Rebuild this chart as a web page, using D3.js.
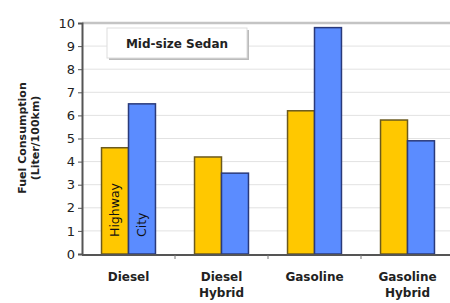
<!DOCTYPE html>
<html>
<head>
<meta charset="utf-8">
<script src="https://cdn.jsdelivr.net/npm/d3@7"></script>
<style>
  body { margin: 0; background: #fff; }
  text { font-family: "DejaVu Sans", sans-serif; }
</style>
</head>
<body>
<svg id="chart" width="450" height="303"></svg>
<script>
// fuel consumption, mid-size sedan
let categories = [["Diesel"], ["Diesel", "Hybrid"], ["Gasoline"], ["Gasoline", "Hybrid"]];
let catKeys = categories.map(d => d.join(" "));
let seriesNames = ["Highway", "City"];
let highway = [4.6, 4.2, 6.2, 5.8];
let city = [6.5, 3.5, 9.8, 4.9];
let yTicks = [0, 1, 2, 3, 4, 5, 6, 7, 8, 9, 10];

let svg = d3.select("#chart");

let x = d3.scaleBand()
          .domain(catKeys)
          .range([82, 454])
          .paddingInner(0.42)
          .paddingOuter(0.21);

let xInner = d3.scaleBand()
               .domain(seriesNames)
               .range([0, x.bandwidth()]);

let y = d3.scaleLinear()
          .domain([0, 10])
          .range([254, 23]);

let colors = { Highway: "#ffc800", City: "#5b8cff" };
let strokes = { Highway: "#6b5a1e", City: "#2a3a7a" };

// gridlines
svg.append("g")
   .selectAll("line")
   .data(yTicks.filter(d => d > 0))
   .enter()
   .append("line")
   .attr("x1", 82)
   .attr("x2", 450)
   .attr("y1", d => y(d))
   .attr("y2", d => y(d))
   .attr("stroke", d => d == 10 ? "#c4c4c4" : "#e2e2e2")
   .attr("stroke-width", d => d == 10 ? 2.5 : 1);

// legend box
let lg = svg.append("g");
lg.append("rect")
  .attr("x", 109).attr("y", 30).attr("width", 140).attr("height", 30)
  .attr("fill", "#bbb");
lg.append("rect")
  .attr("x", 107).attr("y", 28).attr("width", 140).attr("height", 30)
  .attr("fill", "#fff").attr("stroke", "#ddd");
lg.append("text")
  .attr("x", 177).attr("y", 48)
  .attr("text-anchor", "middle")
  .attr("font-size", 12).attr("font-weight", "bold")
  .attr("fill", "#222")
  .text("Mid-size Sedan");

// bars
let rows = catKeys.map((k, i) => ({ key: k, Highway: highway[i], City: city[i] }));

let groups = svg.selectAll("g.grp")
                .data(rows)
                .enter()
                .append("g")
                .attr("class", "grp")
                .attr("transform", d => `translate(${x(d.key)},0)`);

groups.selectAll("rect")
      .data(d => seriesNames.map(s => ({ s: s, v: d[s] })))
      .enter()
      .append("rect")
      .attr("x", d => xInner(d.s))
      .attr("y", d => y(d.v))
      .attr("width", xInner.bandwidth())
      .attr("height", d => y(0) - y(d.v))
      .attr("fill", d => colors[d.s])
      .attr("stroke", d => strokes[d.s])
      .attr("stroke-width", 1.5);

// series labels inside first group
svg.selectAll("text.series")
   .data(seriesNames)
   .enter()
   .append("text")
   .attr("class", "series")
   .attr("transform", d => `translate(${x(catKeys[0]) + xInner(d) + xInner.bandwidth() / 2 + 4},237) rotate(-90)`)
   .attr("font-size", 12.5)
   .attr("fill", "#111")
   .text(d => d);

// y axis
let yAxis = svg.append("g")
               .attr("transform", "translate(82,0)")
               .call(d3.axisLeft(y).tickValues(yTicks).tickSize(4).tickPadding(3));
yAxis.select(".domain").attr("stroke", "#555").attr("stroke-width", 2);
yAxis.selectAll(".tick line").attr("stroke", "#555");
yAxis.selectAll(".tick text")
     .attr("font-size", 13)
     .attr("fill", "#222")
     .attr("font-family", "DejaVu Sans, sans-serif");

// x axis
let xAxis = svg.append("g")
               .attr("transform", "translate(0,255)");
xAxis.append("line")
     .attr("x1", 82).attr("x2", 450)
     .attr("stroke", "#555").attr("stroke-width", 2);
xAxis.selectAll("line.tk")
     .data(catKeys.slice(1))
     .enter()
     .append("line")
     .attr("class", "tk")
     .attr("x1", d => x(d) - x.step() * x.paddingInner() / 2)
     .attr("x2", d => x(d) - x.step() * x.paddingInner() / 2)
     .attr("y1", 0).attr("y2", 4)
     .attr("stroke", "#777");

let catLabels = svg.selectAll("text.cat")
                   .data(categories)
                   .enter()
                   .append("text")
                   .attr("class", "cat")
                   .attr("x", (d, i) => x(catKeys[i]) + x.bandwidth() / 2)
                   .attr("y", 281)
                   .attr("text-anchor", "middle")
                   .attr("font-size", 12)
                   .attr("font-weight", "bold")
                   .attr("fill", "#222");
catLabels.selectAll("tspan")
         .data(d => d)
         .enter()
         .append("tspan")
         .attr("x", function () { return this.parentNode.getAttribute("x"); })
         .attr("dy", (d, i) => i == 0 ? 0 : 16)
         .text(d => d);

// y title
let yt = svg.append("text")
            .attr("transform", "translate(26,138) rotate(-90)")
            .attr("text-anchor", "middle")
            .attr("font-size", 11)
            .attr("font-weight", "bold")
            .attr("fill", "#222");
yt.append("tspan").attr("x", 0).attr("dy", 0).text("Fuel Consumption");
yt.append("tspan").attr("x", 0).attr("dy", 13).text("(Liter/100km)");
</script>
</body>
</html>
